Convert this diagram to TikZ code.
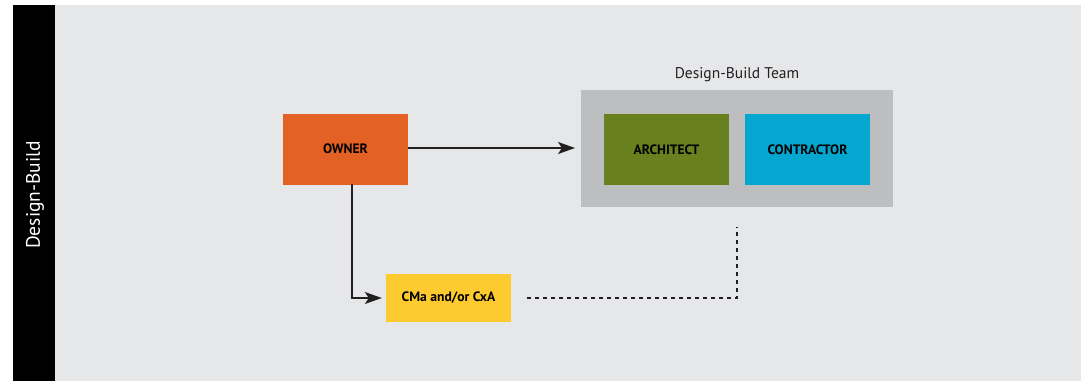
\documentclass[tikz,border=0pt]{standalone}
\usepackage{fontspec}
\setmainfont{PT Sans}
\usetikzlibrary{arrows.meta}
\definecolor{bgc}{HTML}{E6E7E9}
\definecolor{teamc}{HTML}{BDBEC0}
\definecolor{ownerc}{HTML}{E46125}
\definecolor{archc}{HTML}{68801E}
\definecolor{contc}{HTML}{05A6CF}
\definecolor{cmac}{HTML}{FDCA30}
\definecolor{linec}{HTML}{231F20}
\tikzset{
  role/.style={minimum width=125pt, minimum height=71pt, inner sep=0pt, font=\fontsize{13.6}{15}\selectfont\bfseries, text=black},
  link/.style={draw=linec, line width=1.3pt, -{Stealth[length=17pt,width=12pt,inset=4pt]}},
  dotlink/.style={draw=linec, line width=1.3pt, dash pattern=on 4pt off 4pt},
}
\begin{document}
\begin{tikzpicture}[x=1pt,y=-1pt]
\useasboundingbox (0,0) rectangle (1082,381);
\fill[white] (0,0) rectangle (1082,381);
\fill[bgc] (55,5) rectangle (1081,381);
\fill[black] (13,5) rectangle (55,381);
\node[rotate=90, text=white, font=\fontsize{19.5}{21}\selectfont] (side) at (35,195) {Design-Build};
\node[fill=teamc, minimum width=312pt, minimum height=117pt, inner sep=0pt] (team) at (737,148.5) {};
\node[font=\fontsize{15.5}{17}\selectfont, text=linec] (title) at (737,75) {Design-Build Team};
\node[role, fill=ownerc] (owner) at (345.5,149) {OWNER};
\node[role, fill=archc] (arch) at (666.5,149.5) {ARCHITECT};
\node[role, fill=contc] (cont) at (807.5,149.5) {CONTRACTOR};
\node[role, fill=cmac, minimum height=48pt] (cma) at (448.5,298) {CMa and/or CxA};
\coordinate (tip) at (575,148);
\coordinate (dstart) at (527,298);
\coordinate (dend) at (737,227);
\draw[link] (owner.east |- tip) -- (tip);
\draw[link, shorten >=4pt] (352,184) |- (cma.west);
\draw[dotlink] (dstart) -| (dend);
\end{tikzpicture}
\end{document}
